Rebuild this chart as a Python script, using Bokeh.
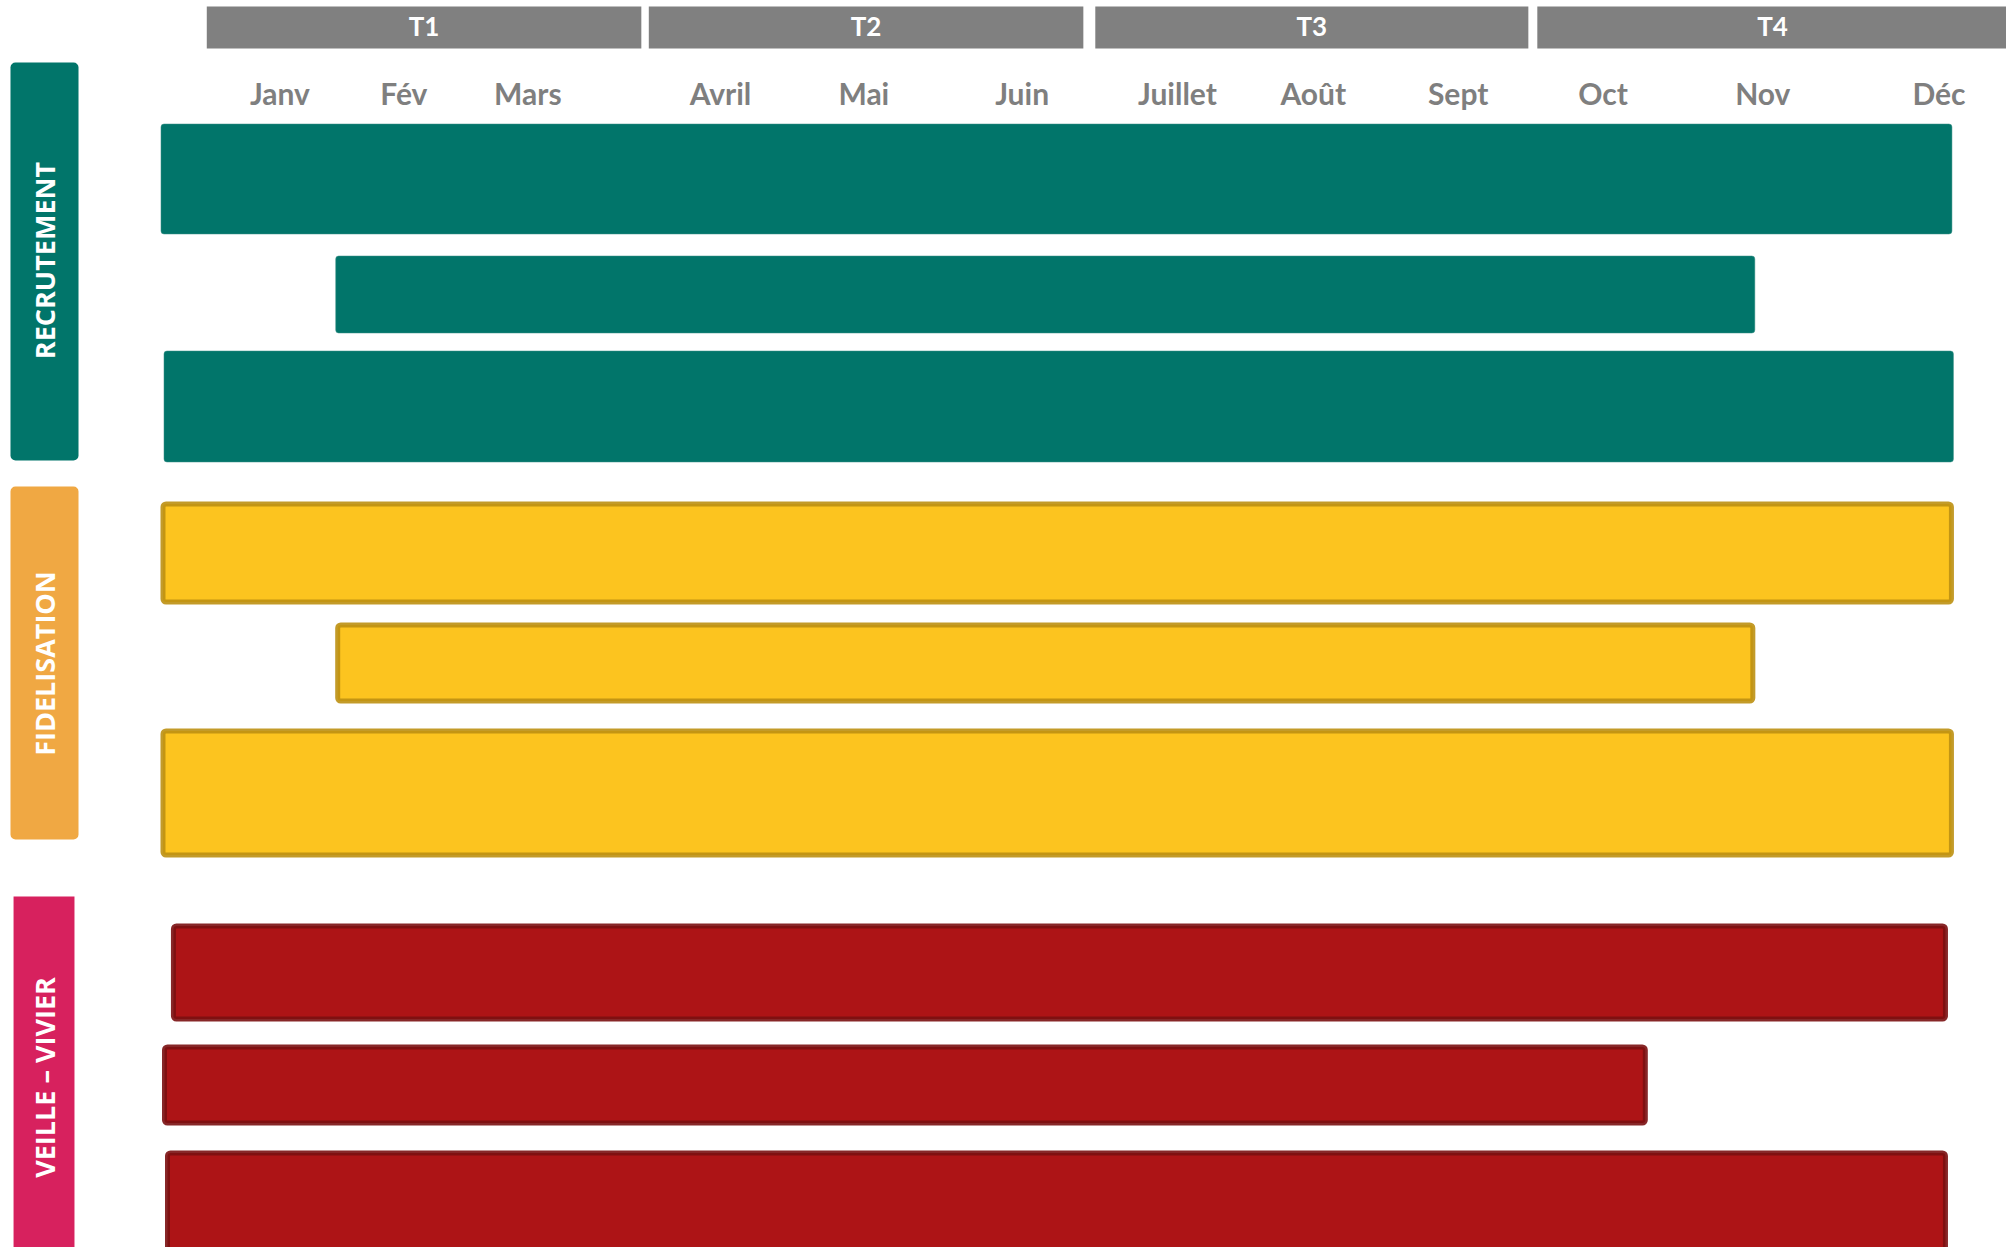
from math import pi

from bokeh.core.properties import value
from bokeh.embed import file_html
from bokeh.models import ColumnDataSource, Range1d
from bokeh.plotting import figure
from bokeh.resources import INLINE

# ---------------------------------------------------------------------------
# Data: timeline measured in months (0 = start of January, 12 = end of December)
# ---------------------------------------------------------------------------
quarters = ["T1", "T2", "T3", "T4"]
quarter_start = [0.31, 3.27, 6.26, 9.22]
quarter_end = [3.22, 6.18, 9.16, 12.37]

months = ["Janv", "Fév", "Mars", "Avril", "Mai", "Juin",
          "Juillet", "Août", "Sept", "Oct", "Nov", "Déc"]
month_pos = [0.80, 1.63, 2.46, 3.75, 4.71, 5.77,
             6.81, 7.72, 8.69, 9.66, 10.73, 11.91]

groups = ["RECRUTEMENT", "FIDELISATION", "VEILLE – VIVIER"]

recrutement_start = [0.0, 1.17, 0.02]
recrutement_end = [12.0, 10.68, 12.01]

fidelisation_start = [0.0, 1.17, 0.0]
fidelisation_end = [12.01, 10.68, 12.01]

veille_start = [0.07, 0.01, 0.03]
veille_end = [11.97, 9.96, 11.97]

# ---------------------------------------------------------------------------
# Layout (vertical positions in pixels from the top of the page)
# ---------------------------------------------------------------------------
W, H = 2006, 1247
X_MIN, X_MAX = -1.0714, 12.362
PX_PER_MONTH = W / (X_MAX - X_MIN)

header_top, header_bottom = 6, 48
header_label_mid = 25.5
month_label_mid = 92.5

row_tops = [[123, 255, 350], [501, 622, 728], [923, 1044, 1150]]
row_bottoms = [[234, 333, 462], [604, 703, 857], [1021, 1125, 1262]]

side_left = [-1.0045, -1.0045, -0.984]
side_right = [-0.549, -0.549, -0.576]
side_top = [62, 486, 896]
side_bottom = [460, 839, 1262]
side_label_y = [260, 663, 1077]
side_label_x = -0.777
side_radius = [5, 5, 0]

side_colors = ["#01756A", "#F0A843", "#D7215E"]
bar_fill = ["#01756A", "#FCC41F", "#AD1416"]
bar_line = ["#3E9188", "#BD9012", "#7A1011"]
bar_line_w = [1, 5, 5]

p = figure(
    width=W, height=H,
    x_range=Range1d(X_MIN, X_MAX), y_range=Range1d(H, 0),
    output_backend="svg", toolbar_location=None,
    min_border=0, background_fill_color="white", border_fill_color="white",
)
p.axis.visible = False
p.grid.visible = False
p.outline_line_color = None

# Quarter header band
p.quad(left=quarter_start, right=quarter_end,
       top=[header_top] * 4, bottom=[header_bottom] * 4,
       fill_color="#808080", line_color=None)
p.text(x=[(a + b) / 2 for a, b in zip(quarter_start, quarter_end)],
       y=[header_label_mid] * 4, text=quarters,
       text_font=value("Lato"), text_font_style="bold", text_font_size="26px",
       text_color="white", text_align="center", text_baseline="middle")

# Month labels
p.text(x=month_pos, y=[month_label_mid] * len(months), text=months,
       text_font=value("Lato"), text_font_style="bold", text_font_size="30px",
       text_color="#7F7F7F", text_align="center", text_baseline="middle")

# Activity bars, one block of three rows per group
starts = [recrutement_start, fidelisation_start, veille_start]
ends = [recrutement_end, fidelisation_end, veille_end]
for g in range(3):
    inset_y = bar_line_w[g] / 2
    inset_x = inset_y / PX_PER_MONTH
    src = ColumnDataSource(dict(
        left=[s + inset_x for s in starts[g]],
        right=[e - inset_x for e in ends[g]],
        top=[t + inset_y for t in row_tops[g]],
        bottom=[b - inset_y for b in row_bottoms[g]],
    ))
    p.quad(left="left", right="right", top="top", bottom="bottom", source=src,
           fill_color=bar_fill[g], line_color=bar_line[g],
           line_width=bar_line_w[g], line_alpha=0.9 if g else 0.5,
           border_radius=3)

# Group labels on the left
for g in range(3):
    p.quad(left=[side_left[g]], right=[side_right[g]],
           top=[side_top[g]], bottom=[side_bottom[g]],
           fill_color=side_colors[g], line_color=None,
           border_radius=side_radius[g])
p.text(x=[side_label_x] * 3, y=side_label_y, text=groups, angle=pi / 2,
       text_font=value("Open Sans"), text_font_style="bold", text_font_size="27px",
       text_color="white", text_align="center", text_baseline="middle")

open("out.html", "w").write(file_html(p, INLINE))
